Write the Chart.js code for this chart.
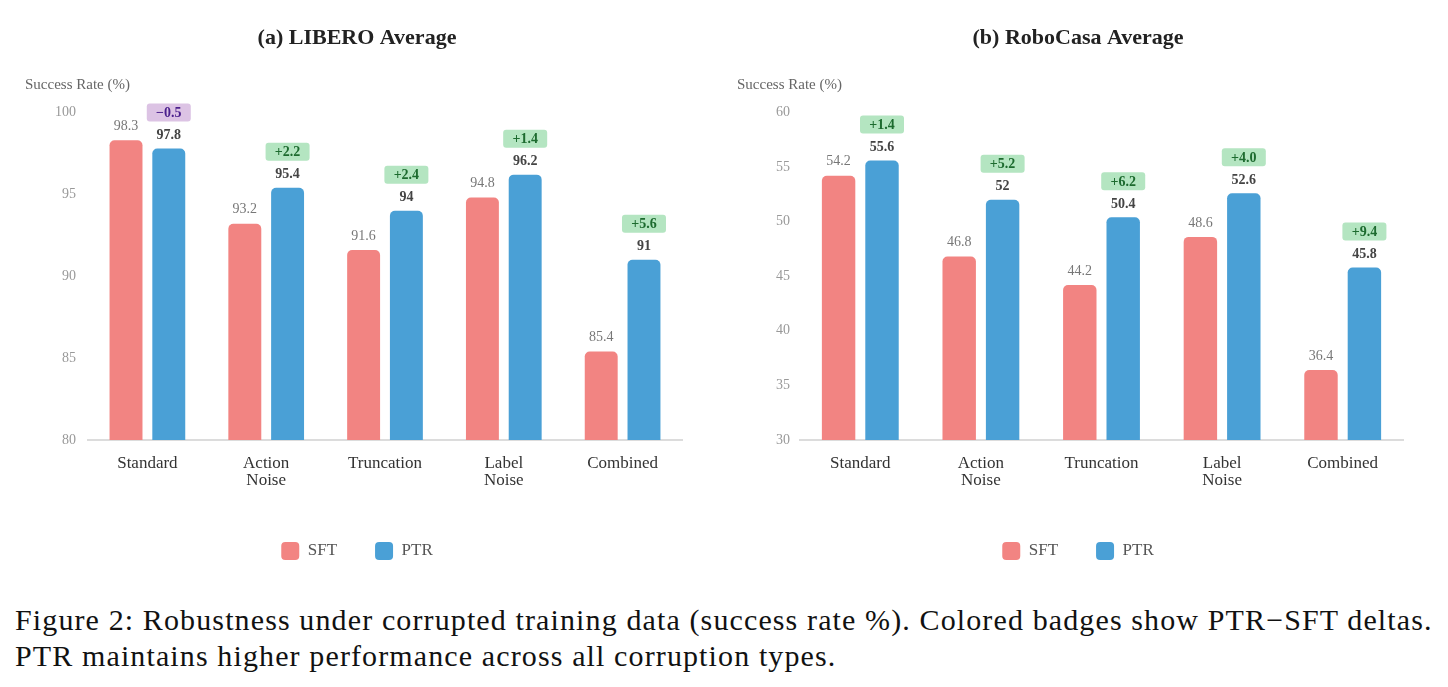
<!DOCTYPE html>
<html>
<head>
<meta charset="utf-8">
<script src="https://cdn.jsdelivr.net/npm/chart.js@4.4.0/dist/chart.umd.min.js"></script>
<style>
  body { margin: 0; background: #fff; width: 1448px; height: 687px; position: relative; overflow: hidden; font-family: "Liberation Serif", serif; }
  .panel { position: absolute; top: 0; }
  #caption { position: absolute; left: 15px; top: 602px; font-size: 30px; letter-spacing: 1.12px; line-height: 36px; color: #111; white-space: nowrap; }
</style>
</head>
<body>
<div class="panel" style="left:0"><canvas id="libero" width="714" height="585"></canvas></div>
<div class="panel" style="left:721px"><canvas id="robocasa" width="714" height="585"></canvas></div>
<div id="caption">Figure 2: Robustness under corrupted training data (success rate %). Colored badges show PTR&minus;SFT deltas.<br>PTR maintains higher performance across all corruption types.</div>
<script>
const categories = [['Standard'], ['Action', 'Noise'], ['Truncation'], ['Label', 'Noise'], ['Combined']];

const liberoSFT = [98.3, 93.2, 91.6, 94.8, 85.4];
const liberoPTR = [97.8, 95.4, 94, 96.2, 91];
const liberoTicks = [80, 100];

const robocasaSFT = [54.2, 46.8, 44.2, 48.6, 36.4];
const robocasaPTR = [55.6, 52, 50.4, 52.6, 45.8];
const robocasaTicks = [30, 60];

const SERIF = '"Liberation Serif", serif';
const SFT_COLOR = '#f28482';
const PTR_COLOR = '#4aa0d6';

// value labels above every bar, plus the delta badge over PTR bars
const barLabels = {
  id: 'barLabels',
  afterDatasetsDraw(chart) {
    const ctx = chart.ctx;
    const sftMeta = chart.getDatasetMeta(0);
    const ptrMeta = chart.getDatasetMeta(1);
    const sft = chart.data.datasets[0].data;
    const ptr = chart.data.datasets[1].data;
    ctx.save();
    ctx.textAlign = 'center';
    ctx.textBaseline = 'middle';

    sftMeta.data.forEach((bar, i) => {
      ctx.font = '14px ' + SERIF;
      ctx.fillStyle = '#777';
      ctx.fillText(String(sft[i]), bar.x, bar.y - 14);
    });

    ptrMeta.data.forEach((bar, i) => {
      ctx.font = 'bold 14px ' + SERIF;
      ctx.fillStyle = '#444';
      ctx.fillText(String(ptr[i]), bar.x, bar.y - 13);

      const d = ptr[i] - sft[i];
      const txt = (d < 0 ? '\u2212' : '+') + Math.abs(d).toFixed(1);
      const w = 44, h = 18, by = bar.y - 36;
      ctx.fillStyle = d < 0 ? '#dcc3e4' : '#b4e5c1';
      ctx.beginPath();
      ctx.roundRect(bar.x - w / 2, by - h / 2, w, h, 3);
      ctx.fill();
      ctx.fillStyle = d < 0 ? '#4a1f8c' : '#1d6b2f';
      ctx.font = 'bold 14px ' + SERIF;
      ctx.fillText(txt, bar.x, by + 1);
    });

    // axis caption in the top-left corner
    ctx.textAlign = 'left';
    ctx.font = '15px ' + SERIF;
    ctx.fillStyle = '#666';
    ctx.fillText('Success Rate (%)', chart.chartArea.left - 63, chart.chartArea.top - 27);
    ctx.restore();
  }
};

function makeChart(id, title, sft, ptr, range, axisWidth, tickPad) {
  return new Chart(document.getElementById(id), {
    type: 'bar',
    data: {
      labels: categories,
      datasets: [
        { label: 'SFT', data: sft, backgroundColor: SFT_COLOR, borderRadius: 5, categoryPercentage: 0.72, barPercentage: 0.77 },
        { label: 'PTR', data: ptr, backgroundColor: PTR_COLOR, borderRadius: 5, categoryPercentage: 0.72, barPercentage: 0.77 }
      ]
    },
    options: {
      responsive: false,
      animation: false,
      layout: { padding: { left: 32, right: 32, top: 0, bottom: 15 } },
      scales: {
        x: {
          grid: { display: false, drawTicks: false },
          border: { display: true, color: '#dcdcdc', width: 2 },
          ticks: { color: '#333', font: { family: SERIF, size: 17, lineHeight: 1 }, padding: 15 }
        },
        y: {
          min: range[0],
          max: range[1],
          grid: { display: false, drawTicks: false },
          border: { display: false },
          ticks: { stepSize: 5, color: '#999', font: { family: SERIF, size: 14 }, padding: tickPad },
          afterFit(scale) { scale.width = axisWidth; }
        }
      },
      plugins: {
        title: {
          display: true,
          text: title,
          color: '#222',
          font: { family: SERIF, size: 22, weight: 'bold' },
          padding: { top: 25, bottom: 61 }
        },
        legend: {
          position: 'bottom',
          labels: {
            color: '#555',
            font: { family: SERIF, size: 17 },
            boxWidth: 18,
            boxHeight: 18,
            useBorderRadius: true,
            borderRadius: 4,
            padding: 38
          }
        },
        tooltip: { enabled: false }
      }
    },
    plugins: [barLabels]
  });
}

makeChart('libero', '(a) LIBERO Average', liberoSFT, liberoPTR, liberoTicks, 56, 12);
makeChart('robocasa', '(b) RoboCasa Average', robocasaSFT, robocasaPTR, robocasaTicks, 47, 10);
</script>
</body>
</html>
